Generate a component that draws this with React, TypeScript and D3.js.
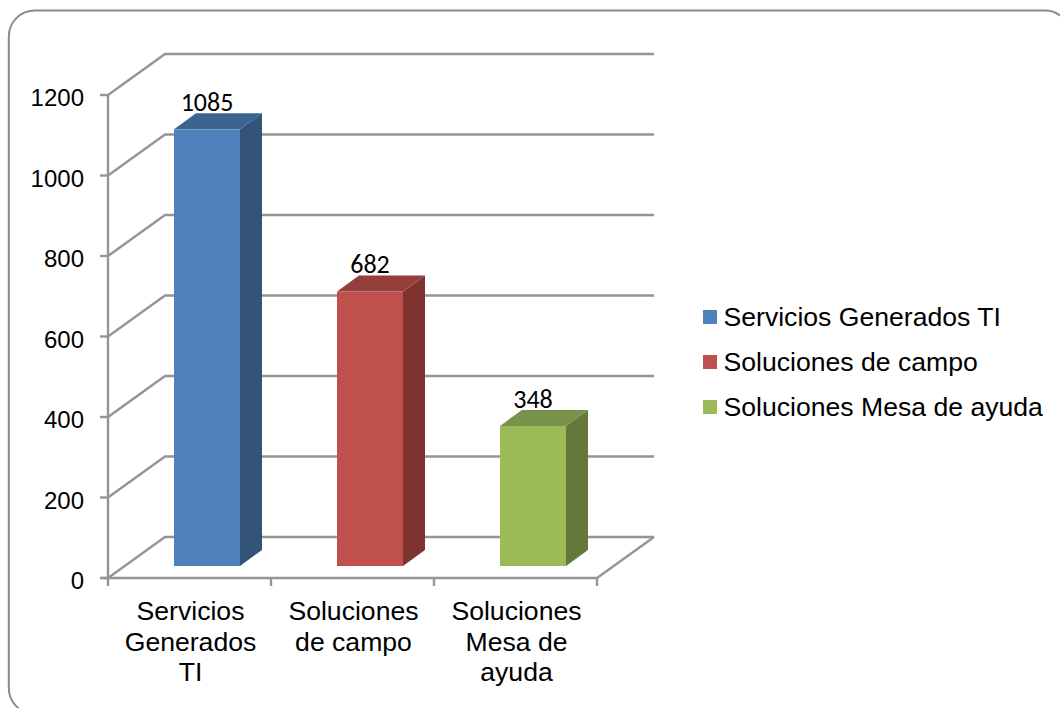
import React from "react";
import * as d3 from "d3";

// Chart content
const categoryLines = [["Servicios", "Generados", "TI"], ["Soluciones", "de campo"], ["Soluciones", "Mesa de", "ayuda"]];
const seriesNames = ["Servicios Generados TI", "Soluciones de campo", "Soluciones Mesa de ayuda"];
const seriesValues = [1085, 682, 348];
const frontColors = ["#4f81bd", "#c0504d", "#9bbb59"];
const topColors = ["#3c6491", "#953f3c", "#799148"];
const sideColors = ["#335378", "#7e3331", "#64783c"];
const yTicks = [0, 200, 400, 600, 800, 1000, 1200];

// Oblique projection: the floor recedes up and to the right
const depth = { x: 57, y: -41 };
const barInset = { x: 66, y: 12 };
const barDepth = { x: 22, y: -16 };

const y = d3.scaleLinear().domain([0, 1200]).range([578, 95]);
const x = d3.scaleBand<number>().domain([0, 1, 2]).range([108, 597]).paddingInner(0).paddingOuter(0);
const legendY = d3.scalePoint<number>().domain([0, 1, 2]).range([317, 407]);

const grid = "#959595";
const sans = "'Liberation Sans', Arial, sans-serif";

function pts(list: [number, number][]) {
  return list.map((p) => p.join(",")).join(" ");
}

export default function App() {
  const barWidth = 66;
  const baseY = y(0) - barInset.y;
  return (
    <svg width={1060} height={708} style={{ position: "absolute", left: 0, top: 0, background: "#fff" }}>
      <rect x={8.8} y={10.5} width={1062} height={703.5} rx={26} fill="#fff" stroke="#8a8a8a" strokeWidth={2} />

      {/* Back wall gridlines and side-wall diagonals */}
      <g fill="none" stroke={grid} strokeWidth={2.4}>
        {yTicks.map((t) => (
          <polyline key={t} points={pts([[x.range()[0], y(t)], [x.range()[0] + depth.x, y(t) + depth.y], [x.range()[1] + depth.x, y(t) + depth.y]])} />
        ))}
        <polyline points={pts([[x.range()[1], y(0)], [x.range()[1] + depth.x, y(0) + depth.y]])} />
        <line x1={x.range()[0]} x2={x.range()[0]} y1={y(1200)} y2={y(0)} />
        <line x1={x.range()[0] - 8} x2={x.range()[1]} y1={y(0)} y2={y(0)} />
        {yTicks.map((t) => (
          <line key={t} x1={x.range()[0] - 8} x2={x.range()[0]} y1={y(t)} y2={y(t)} />
        ))}
        {[0, 1, 2, 3].map((i) => {
          const px = x.range()[0] + i * x.bandwidth();
          return <line key={i} x1={px} x2={px} y1={y(0)} y2={y(0) + 8} />;
        })}
      </g>

      {/* Bars */}
      {seriesValues.map((v, i) => {
        const left = (x(i) as number) + barInset.x;
        const right = left + barWidth;
        const h = y(0) - y(v);
        const top = baseY - h;
        return (
          <g key={i}>
            <polygon fill={sideColors[i]} points={pts([[right, top], [right + barDepth.x, top + barDepth.y], [right + barDepth.x, baseY + barDepth.y], [right, baseY]])} />
            <polygon fill={topColors[i]} points={pts([[left, top], [left + barDepth.x, top + barDepth.y], [right + barDepth.x, top + barDepth.y], [right, top]])} />
            <rect x={left} y={top} width={barWidth} height={h} fill={frontColors[i]} />
            <text x={(left + right) / 2} y={top - 18} textAnchor="middle" fontFamily="Carlito, Lato, sans-serif" fontSize={26} fill="#000">{v}</text>
          </g>
        );
      })}

      {/* Value axis labels */}
      {yTicks.map((t) => (
        <text key={t} x={84} y={y(t) + 11} textAnchor="end" fontFamily={sans} fontSize={24} fill="#000">{t}</text>
      ))}

      {/* Category labels */}
      {categoryLines.map((lines, i) => (
        <text key={i} textAnchor="middle" fontFamily={sans} fontSize={26.6} fill="#000">
          {lines.map((l, j) => (
            <tspan key={j} x={(x(i) as number) + x.bandwidth() / 2 + 1} y={620 + j * 30.5}>{l}</tspan>
          ))}
        </text>
      ))}

      {/* Legend */}
      {seriesNames.map((n, i) => (
        <g key={n}>
          <rect x={703} y={legendY(i)! - 7} width={14} height={14} fill={frontColors[i]} />
          <text x={723.5} y={legendY(i)! + 9} fontFamily={sans} fontSize={26.6} fill="#000">{n}</text>
        </g>
      ))}
    </svg>
  );
}
